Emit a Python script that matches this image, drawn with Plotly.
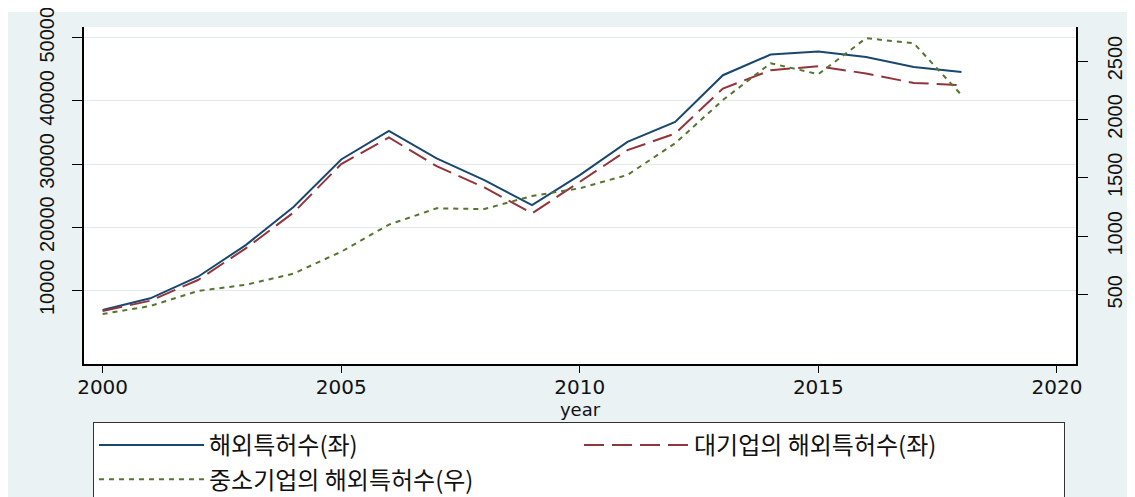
# overseas patents: total / large firms (left axis), SMEs (right axis)

from plotly import graph_objects as go

years = list(range(2000, 2019))

total_patents = [6880, 8730, 12150, 17160, 23200, 30720, 35250, 30880, 27450, 23490,
                 28240, 33510, 36670, 44060, 47330, 47820, 46950, 45370, 44580]
large_firm_patents = [6720, 8350, 11630, 16640, 22300, 29980, 34200, 29660, 26290, 22180,
                      27180, 32190, 34830, 41950, 44850, 45480, 44330, 42840, 42480]
sme_patents = [335, 403, 532, 585, 680, 868, 1100, 1239, 1233, 1345,
               1411, 1525, 1796, 2166, 2481, 2387, 2695, 2652, 2209]

series_names = ["해외특허수(좌)", "대기업의 해외특허수(좌)", "중소기업의 해외특허수(우)"]

left_ticks = [10000, 20000, 30000, 40000, 50000]
right_ticks = [500, 1000, 1500, 2000, 2500]
x_ticks = [2000, 2005, 2010, 2015, 2020]

BG = "#eaf2f3"
NAVY = "#1a476f"
MAROON = "#90353b"
GREEN = "#55752f"

# the page body adds an 8px margin, so the figure is 8px smaller than the window
W, H = 1127, 489

fig = go.Figure()
fig.add_trace(go.Scatter(x=years, y=total_patents, mode="lines", name=series_names[0],
                         line=dict(color=NAVY, width=2)))
fig.add_trace(go.Scatter(x=years, y=large_firm_patents, mode="lines", name=series_names[1],
                         line=dict(color=MAROON, width=2, dash="20px,8px")))
fig.add_trace(go.Scatter(x=years, y=sme_patents, mode="lines", name=series_names[2],
                         yaxis="y2", line=dict(color=GREEN, width=2, dash="5px,5px")))

tick_font = dict(family="Liberation Sans, Arial, sans-serif", size=20, color="#111")

fig.update_layout(
    width=W, height=H,
    margin=dict(l=76, r=59, t=19, b=133, autoexpand=False),
    paper_bgcolor=BG,
    plot_bgcolor="white",
    xaxis=dict(range=[1999.61, 2020.4], tickvals=x_ticks, ticks="outside", ticklen=7,
               tickcolor="black", showline=True, linecolor="black", linewidth=1.5,
               showgrid=False, zeroline=False, ticklabelstandoff=-3,
               ticklabeloverflow="allow",
               tickfont=dict(family="DejaVu Sans, sans-serif", size=20, color="#111"),
               title=dict(text="year", standoff=0,
                          font=dict(family="DejaVu Sans, sans-serif", size=18, color="#111"))),
    yaxis=dict(range=[-1671, 51694], tickvals=left_ticks, tickformat="d",
               ticks="outside", ticklen=10, tickcolor="black", tickangle=-90,
               tickfont=tick_font, ticklabelstandoff=10, ticklabeloverflow="allow",
               showline=True, linecolor="black", linewidth=1.5,
               showgrid=True, gridcolor="#e3eaec", gridwidth=1, zeroline=False),
    yaxis2=dict(range=[-93, 2791], tickvals=right_ticks, tickformat="d",
                ticks="outside", ticklen=10, tickcolor="black", tickangle=-90,
                tickfont=tick_font, ticklabelstandoff=10, ticklabeloverflow="allow",
                overlaying="y", side="right", showline=True, linecolor="black",
                linewidth=1.5, showgrid=False, zeroline=False),
    legend=dict(orientation="h", xref="container", yref="container",
                x=85 / W, y=1 - 414 / H, xanchor="left", yanchor="top",
                bgcolor="white", bordercolor="#333", borderwidth=1,
                entrywidth=365, itemwidth=105, tracegroupgap=0,
                font=dict(family="Noto Sans CJK KR, sans-serif", size=24, color="#111")),
    showlegend=True,
    shapes=[
        # thin white strip above the grey page background
        dict(type="rect", xref="paper", yref="paper", x0=-0.1, x1=1.1,
             y0=1.0445, y1=1.06, fillcolor="white", line_width=0, layer="below"),
    ],
)

fig.write_html("out.html")
